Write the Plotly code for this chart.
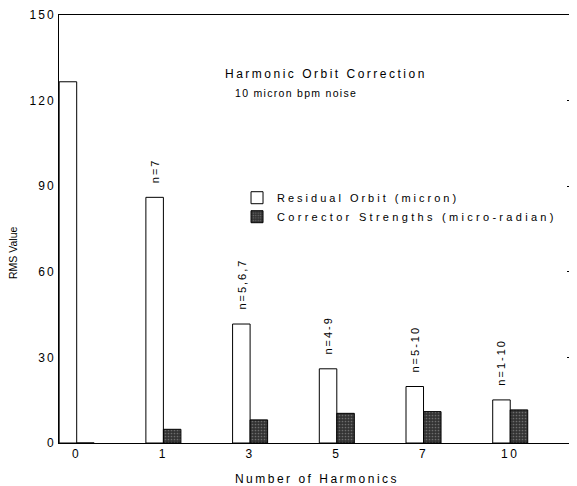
import plotly.graph_objects as go

harmonics = ["0", "1", "3", "5", "7", "10"]
residual_orbit = [126.6, 86.1, 41.7, 26.0, 19.8, 15.1]
corrector_strength = [0.0, 4.8, 8.1, 10.4, 11.0, 11.6]
harmonic_sets = ["", "n=7", "n=5,6,7", "n=4-9", "n=5-10", "n=1-10"]
y_ticks = [0, 30, 60, 90, 120, 150]
right_ticks = [30, 60, 90, 120]

FONT = "Liberation Sans, Arial, sans-serif"


def spaced(text, px):
    return '<span style="letter-spacing:%spx">%s</span>' % (px, text)


fig = go.Figure()
fig.add_trace(go.Bar(
    x=harmonics, y=residual_orbit, name=spaced("Residual Orbit (micron)", 3),
    marker=dict(color="white", line=dict(color="black", width=1)),
))
fig.add_trace(go.Bar(
    x=harmonics, y=corrector_strength, name=spaced("Corrector Strengths (micro-radian)", 3.3),
    marker=dict(color="#333333", line=dict(color="black", width=1),
                pattern=dict(shape=".", fgcolor="#a8a8a8", size=3, solidity=0.25)),
))
# invisible trace on the right axis to show its ticks
fig.add_trace(go.Scatter(x=harmonics, y=residual_orbit, yaxis="y2",
                         mode="markers", marker=dict(opacity=0), showlegend=False,
                         hoverinfo="skip"))

for i, (v, lab) in enumerate(zip(residual_orbit, harmonic_sets)):
    if lab:
        fig.add_annotation(x=i, y=v, text=spaced(lab, 2), textangle=-90, showarrow=False,
                           xanchor="center", yanchor="bottom", xshift=-9, yshift=12,
                           font=dict(family=FONT, size=11, color="black"))

fig.add_annotation(x=0.318, xref="paper", y=0.862, yref="paper", xanchor="left",
                   yanchor="middle", text=spaced("Harmonic Orbit Correction", 2.5),
                   showarrow=False, font=dict(family=FONT, size=12, color="black"))
fig.add_annotation(x=0.337, xref="paper", y=0.818, yref="paper", xanchor="left",
                   yanchor="middle", text=spaced("10 micron bpm noise", 1.3),
                   showarrow=False, font=dict(family=FONT, size=10.5, color="black"))
# y-axis title (placed lower than the axis centre, as in the original)
fig.add_annotation(x=0, xref="paper", y=0.444, yref="paper", xanchor="center",
                   yanchor="middle", xshift=-46, text="RMS Value", textangle=-90,
                   showarrow=False, font=dict(family=FONT, size=10.5, color="black"))

fig.update_layout(
    width=577, height=486, autosize=False,
    margin=dict(l=51, r=10, t=7, b=51),
    paper_bgcolor="white", plot_bgcolor="white",
    barmode="group", bargap=0.596, bargroupgap=0,
    font=dict(family=FONT, size=12, color="black"),
    showlegend=True,
    legend=dict(x=0.345, y=0.607, xanchor="left", yanchor="top",
                bgcolor="rgba(0,0,0,0)", font=dict(family=FONT, size=11),
                itemwidth=30, tracegroupgap=0),
    xaxis=dict(type="category", range=[-0.204, 5.747], showline=True,
               linecolor="black", linewidth=1, mirror=True, ticks="",
               tickvals=harmonics, ticktext=[spaced(h, 2.5) for h in harmonics],
               showgrid=False, zeroline=False, automargin=False,
               title=dict(text=spaced("Number of Harmonics", 2.5), font=dict(size=12),
                          standoff=14)),
    yaxis=dict(range=[0, 150], tickvals=y_ticks,
               ticktext=[spaced(t, 2) for t in y_ticks], showline=True, linecolor="black",
               linewidth=1, ticks="", showgrid=False, zeroline=False, automargin=False),
    yaxis2=dict(range=[0, 150], overlaying="y", side="right", tickvals=right_ticks,
                ticks="inside", ticklen=8, tickcolor="black", showticklabels=False,
                showline=True, linecolor="black", linewidth=1, showgrid=False,
                zeroline=False, automargin=False),
)

fig.write_html("out.html")
